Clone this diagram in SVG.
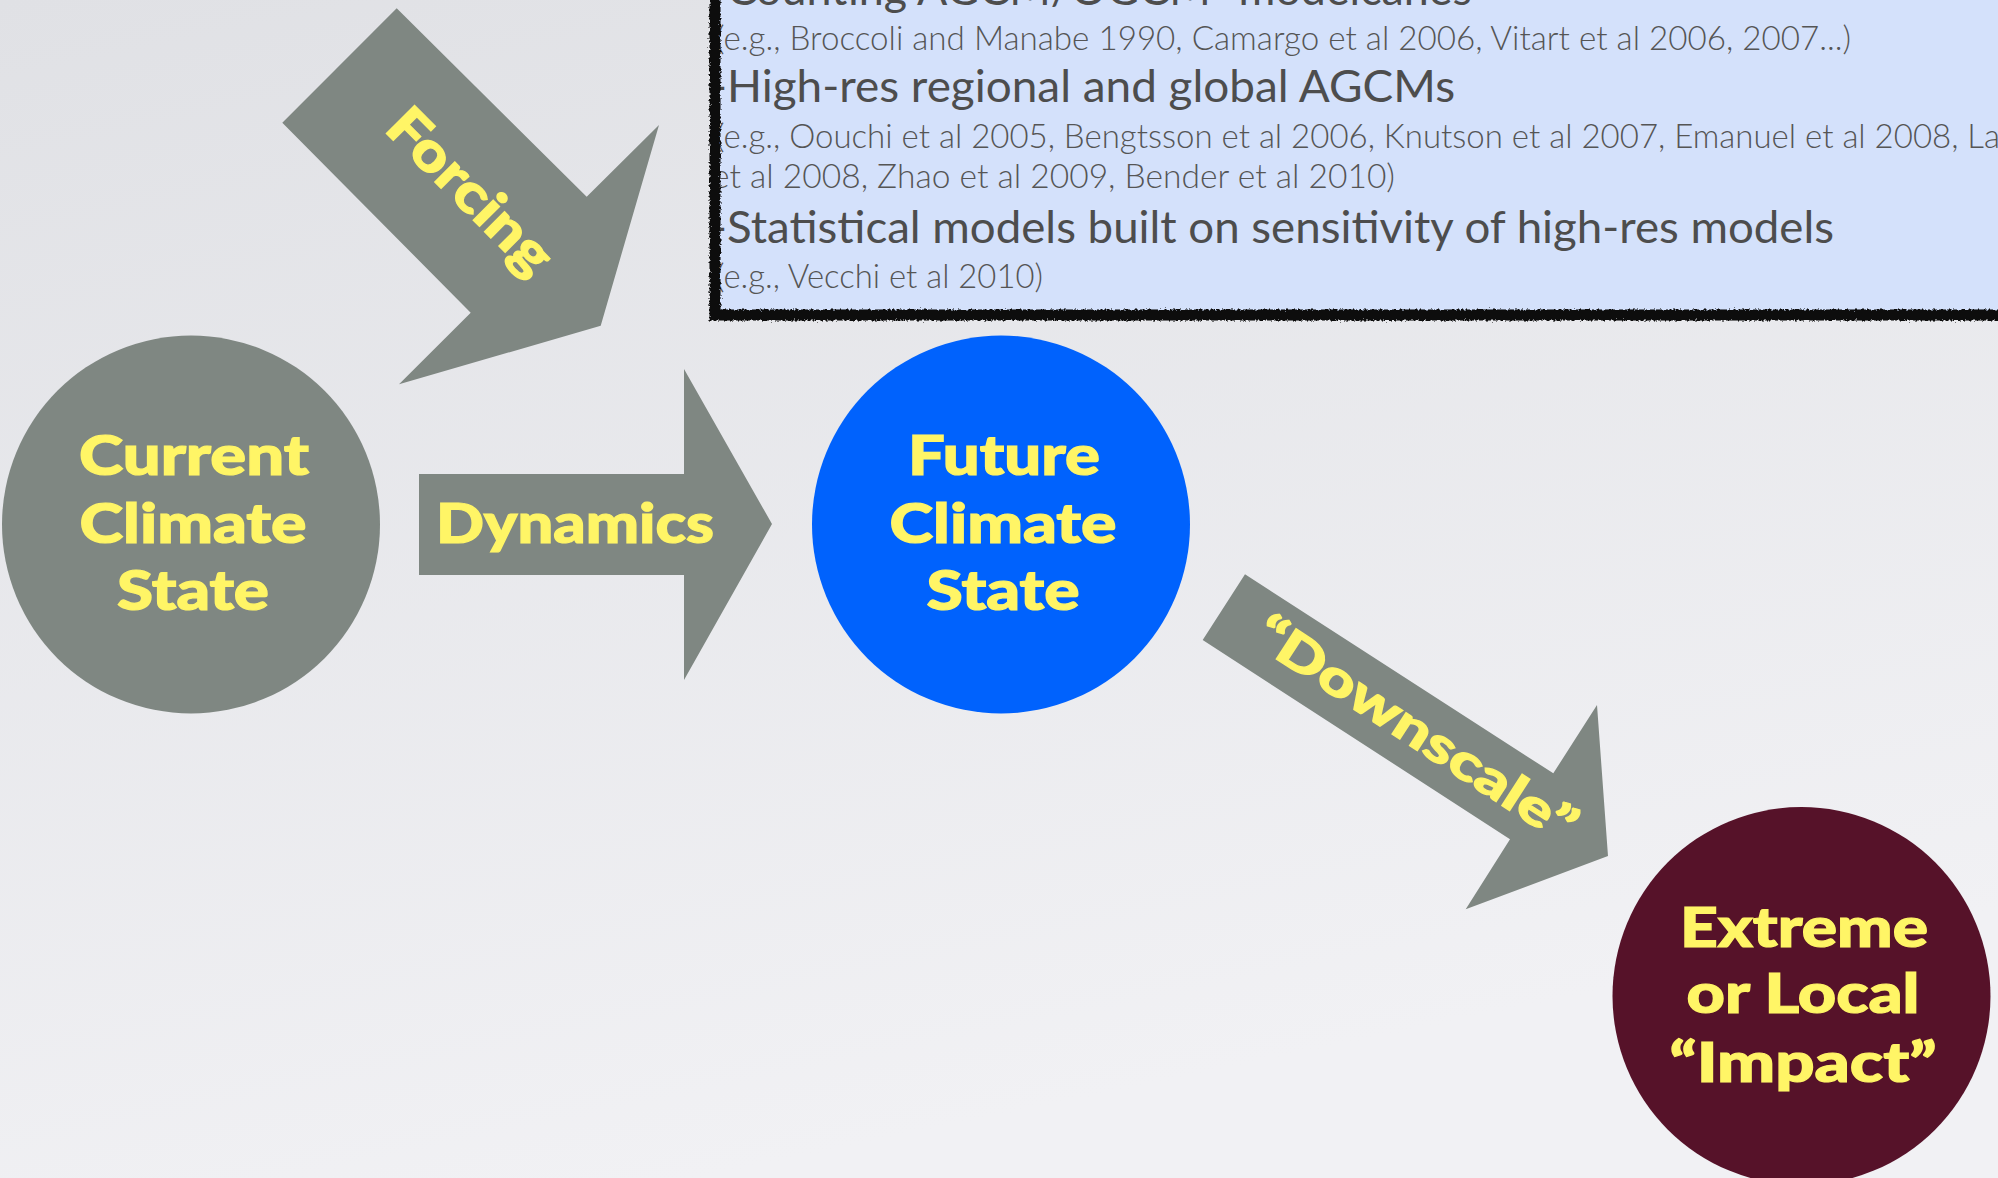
<svg xmlns="http://www.w3.org/2000/svg" width="1998" height="1178" viewBox="0 0 1998 1178">
  <defs>
    <linearGradient id="bg" x1="0" y1="0" x2="0.35" y2="1">
      <stop offset="0" stop-color="#e0e1e5"/>
      <stop offset="1" stop-color="#f1f1f4"/>
    </linearGradient>
    <filter id="rough" x="-5%" y="-5%" width="110%" height="110%">
      <feTurbulence type="fractalNoise" baseFrequency="0.45" numOctaves="2" seed="3" result="n"/>
      <feDisplacementMap in="SourceGraphic" in2="n" scale="5" xChannelSelector="R" yChannelSelector="G"/>
    </filter>
    <style>
      .arrow { fill: #7f8782; }
      .label { font-family: "Lato", "DejaVu Sans", sans-serif; font-weight: 900; fill: #fff566; stroke: #fff566; stroke-width: 1.2; text-anchor: middle; }
      .big { font-size: 55px; }
      .head { font-family: "Lato", "Liberation Sans", sans-serif; font-size: 44px; fill: #4d4d4d; }
      .ref { font-family: "Lato", "Liberation Sans", sans-serif; font-weight: 300; font-size: 34px; fill: #555555; }
    </style>
  </defs>

  <rect width="1998" height="1178" fill="url(#bg)"/>

  <!-- literature note box -->
  <g id="notes">
    <rect x="715" y="-30" width="1320" height="345" fill="#d4e1fb"/>
    <text class="head" x="710" y="5" textLength="778" lengthAdjust="spacingAndGlyphs">-Counting AGCM/OGCM “modelcanes”</text>
    <text class="ref" x="716" y="50" textLength="1135" lengthAdjust="spacingAndGlyphs">(e.g., Broccoli and Manabe 1990, Camargo et al 2006, Vitart et al 2006, 2007...)</text>
    <text class="head" x="710" y="102" textLength="745" lengthAdjust="spacingAndGlyphs">-High-res regional and global AGCMs</text>
    <text class="ref" x="716" y="148" textLength="1284" lengthAdjust="spacingAndGlyphs">(e.g., Oouchi et al 2005, Bengtsson et al 2006, Knutson et al 2007, Emanuel et al 2008, La</text>
    <text class="ref" x="712" y="188" textLength="683" lengthAdjust="spacingAndGlyphs">et al 2008, Zhao et al 2009, Bender et al 2010)</text>
    <text class="head" x="710" y="243" textLength="1124" lengthAdjust="spacingAndGlyphs">-Statistical models built on sensitivity of high-res models</text>
    <text class="ref" x="716" y="288" textLength="327" lengthAdjust="spacingAndGlyphs">(e.g., Vecchi et al 2010)</text>
    <rect x="715" y="-30" width="1320" height="345" fill="none" stroke="#0a0a0a" stroke-width="11" filter="url(#rough)"/>
  </g>

  <!-- arrows between states -->
  <g id="connectors">
    <g id="forcing">
      <polygon class="arrow" points="396.7,8.3 282.3,122.7 470.7,312.7 399,384.3 600.7,325.7 659,125 586.7,196.7"/>
      <text class="label big" transform="translate(467.8,193.8) rotate(45)" x="0" y="15" textLength="210" lengthAdjust="spacingAndGlyphs">Forcing</text>
    </g>
    <g id="dynamics">
      <polygon class="arrow" points="419,474 684,474 684,369 772,524 684,680 684,575 419,575"/>
      <text class="label big" x="575" y="543" textLength="278" lengthAdjust="spacingAndGlyphs">Dynamics</text>
    </g>
    <g id="downscale">
      <polygon class="arrow" points="1245,574.3 1202.7,640 1510,839.3 1465.7,909.3 1608,856 1597,705 1553.3,773.3"/>
      <text class="label" font-size="50" transform="translate(1414.8,731.2) rotate(33)" x="0" y="15" textLength="372" lengthAdjust="spacingAndGlyphs">“Downscale”</text>
    </g>
  </g>

  <!-- climate states -->
  <g id="current-state">
    <circle cx="191" cy="524.5" r="189" fill="#7f8782"/>
    <text class="label big" x="194" y="475" textLength="230" lengthAdjust="spacingAndGlyphs">Current</text>
    <text class="label big" x="193" y="543" textLength="227" lengthAdjust="spacingAndGlyphs">Climate</text>
    <text class="label big" x="193" y="610" textLength="152" lengthAdjust="spacingAndGlyphs">State</text>
  </g>

  <g id="future-state">
    <circle cx="1001" cy="524.5" r="189" fill="#0062fd"/>
    <text class="label big" x="1004" y="475" textLength="192" lengthAdjust="spacingAndGlyphs">Future</text>
    <text class="label big" x="1003" y="543" textLength="227" lengthAdjust="spacingAndGlyphs">Climate</text>
    <text class="label big" x="1003" y="610" textLength="153" lengthAdjust="spacingAndGlyphs">State</text>
  </g>

  <g id="impact">
    <circle cx="1801.5" cy="996" r="189" fill="#561229"/>
    <text class="label big" x="1804" y="947" textLength="248" lengthAdjust="spacingAndGlyphs">Extreme</text>
    <text class="label big" x="1803" y="1013" textLength="233" lengthAdjust="spacingAndGlyphs">or Local</text>
    <text class="label big" x="1803" y="1082" textLength="267" lengthAdjust="spacingAndGlyphs">“Impact”</text>
  </g>
</svg>
